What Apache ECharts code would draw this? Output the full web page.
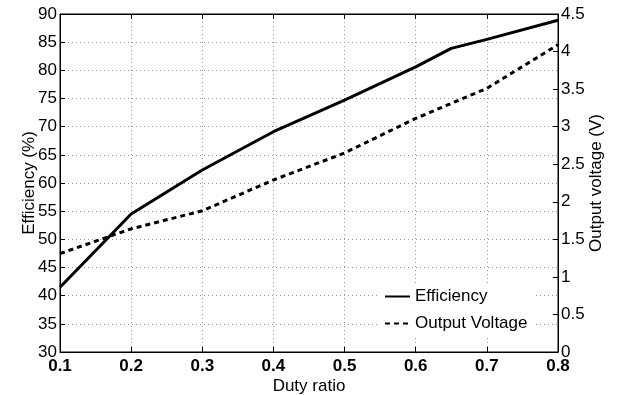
<!DOCTYPE html>
<html>
<head>
<meta charset="utf-8">
<script src="https://cdn.jsdelivr.net/npm/echarts@6/dist/echarts.min.js"></script>
<style>html,body{margin:0;padding:0;background:#fff}#c{width:620px;height:395px}</style>
</head>
<body>
<div id="c"></div>
<script>
const dutyEff = [0.1, 0.2, 0.3, 0.4, 0.5, 0.6, 0.65, 0.7, 0.8];
const efficiency = [41.5, 54.5, 62.3, 69.1, 74.7, 80.6, 83.9, 85.5, 88.9];
const dutyVolt = [0.1, 0.2, 0.3, 0.4, 0.5, 0.6, 0.7, 0.8];
const outputVoltage = [1.31, 1.64, 1.88, 2.29, 2.65, 3.11, 3.51, 4.09];
const seriesNames = ['Efficiency', 'Output Voltage'];
const xTitle = 'Duty ratio';
const yLeftTitle = 'Efficiency (%)';
const yRightTitle = 'Output voltage (V)';

const font = 'Liberation Sans, Arial, Helvetica, sans-serif';
const chart = echarts.init(document.getElementById('c'), null, {renderer: 'canvas'});
const pairs = (xs, ys) => xs.map((x, i) => [x, ys[i]]);
chart.setOption({
  animation: false,
  backgroundColor: '#fff',
  grid: {left: 60, right: 62, top: 14, bottom: 43, containLabel: false, outerBoundsMode: 'none',
    show: true, borderColor: '#000', borderWidth: 1, backgroundColor: 'transparent'},
  legend: {
    orient: 'vertical', left: 379, top: 285, itemWidth: 25, itemHeight: 14, itemGap: 10,
    padding: [3, 6, 3, 5], backgroundColor: '#fff',
    itemStyle: {opacity: 0},
    textStyle: {fontFamily: font, fontSize: 17, color: '#000'},
    data: seriesNames
  },
  xAxis: [{
    type: 'value', min: 0.1, max: 0.8, interval: 0.1, position: 'bottom',
    name: xTitle, nameLocation: 'middle', nameGap: 26, nameMoveOverlap: false,
    nameTextStyle: {fontFamily: font, fontSize: 17, color: '#000'},
    axisLine: {show: true, lineStyle: {color: '#000', width: 1}},
    axisTick: {show: true, inside: true, length: 5, lineStyle: {color: '#000'}},
    axisLabel: {fontFamily: font, fontSize: 17, fontWeight: 'bold', color: '#000', margin: 6,
      formatter: v => (Math.round(v * 10) / 10).toFixed(1)},
    splitLine: {show: true, lineStyle: {color: '#999', type: [1, 3], width: 1}}
  }, {
    type: 'value', min: 0.1, max: 0.8, interval: 0.1, position: 'top',
    axisLine: {show: true, lineStyle: {color: '#000', width: 1}},
    axisTick: {show: true, inside: true, length: 5, lineStyle: {color: '#000'}},
    axisLabel: {show: false}, splitLine: {show: false}
  }],
  yAxis: [{
    type: 'value', min: 30, max: 90, interval: 5, position: 'left',
    name: yLeftTitle, nameLocation: 'middle', nameGap: 22, nameRotate: 90, nameMoveOverlap: false,
    nameTextStyle: {fontFamily: font, fontSize: 17, color: '#000'},
    axisLine: {show: true, lineStyle: {color: '#000', width: 1}},
    axisTick: {show: true, inside: true, length: 5, lineStyle: {color: '#000'}},
    axisLabel: {fontFamily: font, fontSize: 17, color: '#000', margin: 3},
    splitLine: {show: true, lineStyle: {color: '#999', type: [1, 3], width: 1}}
  }, {
    type: 'value', min: 0, max: 4.5, interval: 0.5, position: 'right',
    name: yRightTitle, nameLocation: 'middle', nameGap: 30, nameRotate: 90, nameMoveOverlap: false,
    nameTextStyle: {fontFamily: font, fontSize: 17, color: '#000'},
    axisLine: {show: true, lineStyle: {color: '#000', width: 1}},
    axisTick: {show: true, inside: true, length: 5, lineStyle: {color: '#000'}},
    axisLabel: {fontFamily: font, fontSize: 17, color: '#000', margin: 3},
    splitLine: {show: false}
  }],
  series: [{
    name: seriesNames[0], type: 'line', xAxisIndex: 0, yAxisIndex: 0,
    data: pairs(dutyEff, efficiency), symbol: 'none', color: '#000',
    lineStyle: {color: '#000', width: 3}
  }, {
    name: seriesNames[1], type: 'line', xAxisIndex: 0, yAxisIndex: 1,
    data: pairs(dutyVolt, outputVoltage), symbol: 'none', color: '#000',
    lineStyle: {color: '#000', width: 3, type: [5, 4]}
  }]
});
</script>
</body>
</html>
